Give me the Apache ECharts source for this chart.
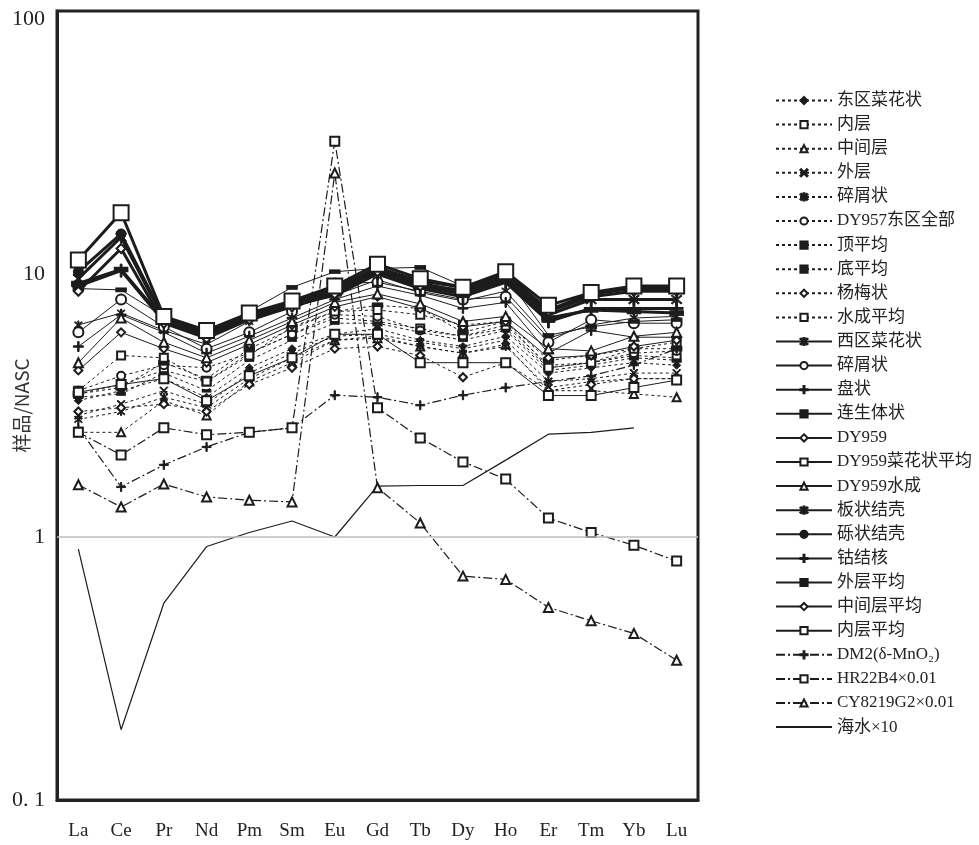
<!DOCTYPE html>
<html lang="zh">
<head>
<meta charset="UTF-8">
<title>REE pattern</title>
<script src="https://cdn.jsdelivr.net/npm/echarts@6/dist/echarts.min.js"></script>
<style>
  html, body { margin: 0; padding: 0; background: #fff; }
  #chart { width: 979px; height: 845px; }
</style>
</head>
<body>
<div id="chart"></div>
<script>
// 元素
var elements = ['La', 'Ce', 'Pr', 'Nd', 'Pm', 'Sm', 'Eu', 'Gd', 'Tb', 'Dy', 'Ho', 'Er', 'Tm', 'Yb', 'Lu'];
var yTicks = [0.1, 1, 10, 100];

// 虚线组
var dongquCaihua = [3.3, 3.6, 4.0, 3.4, 4.4, 5.2, 5.9, 6.2, 5.6, 5.3, 5.8, 4.2, 4.4, 4.6, 4.5];
var neiceng = [3.5, 3.8, 4.3, 3.9, 5.0, 5.9, 6.8, 6.6, 6.2, 5.8, 6.4, 4.5, 4.6, 4.9, 4.8];
var zhongjianceng = [2.5, 2.5, 3.3, 2.9, 3.9, 4.6, 5.6, 5.7, 5.3, 5.0, 5.4, 3.6, 3.6, 3.5, 3.4];
var waiceng = [2.9, 3.2, 3.6, 3.2, 4.2, 5.0, 5.8, 5.9, 5.5, 5.2, 5.6, 3.9, 4.0, 4.2, 4.2];
var suixie = [2.8, 3.0, 3.4, 3.1, 4.0, 4.8, 5.6, 5.8, 5.3, 5.0, 5.3, 3.7, 3.9, 4.0, 4.0];
var dy957 = [3.6, 4.1, 4.5, 4.4, 5.0, 5.9, 7.0, 6.9, 6.1, 5.8, 6.2, 4.4, 4.6, 5.0, 5.1];
var dingAvg = [3.4, 3.5, 4.2, 3.6, 4.7, 5.6, 6.5, 6.5, 6.0, 5.6, 6.1, 4.3, 4.5, 4.8, 4.7];
var diAvg = [3.5, 3.7, 4.6, 4.0, 5.2, 6.2, 7.2, 7.6, 7.4, 6.0, 6.6, 4.7, 4.9, 5.2, 5.2];
var yangmei = [3.0, 3.1, 3.2, 3.0, 3.8, 4.4, 5.2, 5.3, 4.9, 4.05, 4.6, 3.6, 3.8, 4.0, 4.0];
var shuichengAvg = [3.6, 4.9, 4.8, 3.9, 4.9, 6.3, 7.2, 7.3, 7.0, 6.4, 6.6, 4.4, 4.6, 5.2, 5.5];

// 细实线组
var xiquCaihua = [6.4, 7.1, 6.1, 5.4, 6.6, 7.5, 8.3, 9.5, 8.5, 7.9, 8.6, 5.7, 6.4, 6.8, 6.9];
var suixie2 = [6.0, 8.0, 6.3, 5.2, 6.0, 7.2, 9.2, 9.3, 8.6, 8.0, 8.2, 5.5, 6.7, 6.5, 6.5];
var panzhuang = [5.3, 7.0, 6.0, 5.0, 5.8, 6.8, 8.0, 9.0, 8.3, 7.4, 7.8, 5.0, 6.1, 5.75, 5.75];
var liansheng = [8.8, 8.7, 6.9, 5.8, 7.2, 8.9, 10.2, 10.5, 10.6, 9.0, 9.8, 5.85, 6.3, 6.6, 6.7];
var dy959 = [4.3, 6.0, 5.2, 4.6, 5.4, 6.4, 7.5, 8.2, 7.4, 6.3, 6.6, 4.8, 4.9, 5.3, 5.6];
var dy959Caihua = [3.55, 3.8, 4.0, 3.3, 4.1, 4.8, 5.9, 5.9, 4.6, 4.6, 4.6, 3.45, 3.45, 3.7, 3.95];
var dy959Shuicheng = [4.6, 6.8, 5.5, 4.8, 5.6, 6.6, 7.8, 8.4, 7.7, 6.6, 6.9, 5.2, 5.1, 5.8, 6.0];

// 粗实线组
var banzhuang = [9.6, 13.8, 6.7, 5.9, 6.9, 7.7, 8.6, 10.4, 9.2, 8.6, 9.7, 7.0, 8.0, 8.0, 8.0];
var lizhuang = [10.2, 14.2, 6.8, 6.0, 7.0, 7.8, 8.8, 10.6, 9.4, 8.9, 10.0, 7.3, 8.4, 8.8, 8.8];
var gujiehe = [9.0, 10.3, 6.6, 5.8, 6.8, 7.6, 8.3, 10.0, 8.8, 8.2, 9.3, 6.6, 7.4, 7.4, 7.4];
var waicengAvg = [9.2, 10.4, 6.7, 5.9, 6.9, 7.8, 8.5, 10.3, 9.0, 8.4, 9.5, 6.8, 7.3, 7.2, 7.1];
var zhongjianAvg = [8.6, 12.5, 6.5, 5.7, 6.7, 7.5, 8.4, 10.2, 9.0, 8.7, 9.8, 7.2, 8.2, 8.6, 8.6];
var neicengAvg = [11.3, 17.1, 6.9, 6.1, 7.1, 7.9, 9.0, 10.9, 9.6, 8.9, 10.2, 7.6, 8.5, 9.0, 9.0];

// 点划线组
var dm2 = [2.6, 1.55, 1.88, 2.2, 2.5, 2.6, 3.46, 3.4, 3.17, 3.46, 3.7, 3.9, 4.1, 4.5, 5.2];
var hr22b4 = [2.5, 2.05, 2.6, 2.45, 2.5, 2.6, 32, 3.1, 2.38, 1.93, 1.66, 1.18, 1.04, 0.93, 0.81];
var cy8219 = [1.58, 1.3, 1.59, 1.42, 1.38, 1.36, 24.2, 1.54, 1.13, 0.71, 0.69, 0.54, 0.48, 0.43, 0.34];
var seawater = [0.9, 0.185, 0.56, 0.92, 1.04, 1.15, 1.0, 1.56, 1.57, 1.57, 1.96, 2.46, 2.5, 2.6, null];

var ink = '#1c1c1c';
var symX = 'path://M0,1L1,0L10,9L9,10Z M9,0L10,1L1,10L0,9Z';
var symStar = 'path://M0,1L1,0L10,9L9,10Z M9,0L10,1L1,10L0,9Z M4.3,-1H5.7V11H4.3Z';
var symPlus = 'path://M4.3,0H5.7V10H4.3Z M0,4.3H10V5.7H0Z';

var dotted = [3, 3];
var dashDot = [9, 3, 2, 3];

function mk(name, data, symbol, size, width, type) {
    return {
        name: name,
        type: 'line',
        data: data,
        symbol: symbol,
        symbolSize: size,
        connectNulls: false,
        lineStyle: { color: ink, width: width, type: type },
        itemStyle: { color: ink, borderColor: ink, borderWidth: 1 },
        emphasis: { disabled: true },
        z: 2
    }
}

var series = [
    mk('东区菜花状', dongquCaihua, 'diamond', 8, 1, dotted),
    mk('内层', neiceng, 'emptyRect', 8, 1, dotted),
    mk('中间层', zhongjianceng, 'emptyTriangle', 8, 1, dotted),
    mk('外层', waiceng, symX, 8, 1, dotted),
    mk('碎屑状', suixie, symStar, 8, 1, dotted),
    mk('DY957东区全部', dy957, 'emptyCircle', 8, 1, dotted),
    mk('顶平均', dingAvg, 'rect', [8, 3], 1, dotted),
    mk('底平均', diAvg, 'rect', [10, 5], 1, dotted),
    mk('杨梅状', yangmei, 'emptyDiamond', 8, 1, dotted),
    mk('水成平均', shuichengAvg, 'emptyRect', 8, 1, dotted),
    mk('西区菜花状', xiquCaihua, symStar, 8, 1, 'solid'),
    mk('碎屑状 ', suixie2, 'emptyCircle', 10, 1, 'solid'),
    mk('盘状', panzhuang, symPlus, 10, 1, 'solid'),
    mk('连生体状', liansheng, 'rect', [10, 4], 1, 'solid'),
    mk('DY959', dy959, 'emptyDiamond', 8, 1, 'solid'),
    mk('DY959菜花状平均', dy959Caihua, 'emptyRect', 9, 1, 'solid'),
    mk('DY959水成', dy959Shuicheng, 'emptyTriangle', 9, 1, 'solid'),
    mk('板状结壳', banzhuang, symStar, 11, 3, 'solid'),
    mk('砾状结壳', lizhuang, 'circle', 10, 3, 'solid'),
    mk('钴结核', gujiehe, symPlus, 13, 3, 'solid'),
    mk('外层平均', waicengAvg, 'rect', [13, 5], 3, 'solid'),
    mk('中间层平均', zhongjianAvg, 'emptyDiamond', 9, 3, 'solid'),
    mk('内层平均', neicengAvg, 'emptyRect', 15, 3, 'solid'),
    mk('DM2(δ-MnO₂)', dm2, symPlus, 9, 1.2, dashDot),
    mk('HR22B4×0.01', hr22b4, 'emptyRect', 9, 1.2, dashDot),
    mk('CY8219G2×0.01', cy8219, 'emptyTriangle', 9, 1.2, dashDot),
    mk('海水×10', seawater, 'circle', 4, 1.2, 'solid')
]
// 海水线不画点
var sea = series[series.length - 1]
sea.showSymbol = false
sea.itemStyle = { opacity: 0 }
// 值为1的灰色横线
sea.markLine = {
    silent: true,
    symbol: 'none',
    label: { show: false },
    lineStyle: { color: '#bdbdbd', width: 1.5, type: 'solid', opacity: 1 },
    data: [{ yAxis: 1 }]
}

var myChart = echarts.init(document.getElementById('chart'), null, { renderer: 'canvas' });
var option = {
    animation: false,
    backgroundColor: '#fff',
    grid: {
        left: 57, right: 281, top: 11, bottom: 45,
        containLabel: false,
        outerBoundsMode: 'none',
        show: true, borderColor: '#222', borderWidth: 3, backgroundColor: 'transparent'
    },
    legend: {
        orient: 'vertical',
        left: 775,
        top: 92,
        padding: 0,
        itemWidth: 56,
        itemHeight: 9,
        itemGap: 7.1,
        textStyle: { fontSize: 17, color: '#222', fontFamily: "'Liberation Serif', 'Noto Sans CJK SC'" },
        data: series.map(function (s) { return s.name })
    },
    xAxis: {
        type: 'category',
        data: elements,
        boundaryGap: true,
        axisLine: { show: true, lineStyle: { color: '#222', width: 3 } },
        axisTick: { show: false },
        axisLabel: { fontSize: 19, color: '#222', margin: 22, fontFamily: "'Liberation Serif'" },
        splitLine: { show: false }
    },
    yAxis: {
        type: 'log',
        logBase: 10,
        min: yTicks[0],
        max: yTicks[yTicks.length - 1],
        name: '样品/NASC',
        nameLocation: 'middle',
        nameRotate: 90,
        nameGap: 26,
        nameMoveOverlap: false,
        nameTextStyle: { fontSize: 19, color: '#333', fontFamily: "'Noto Sans CJK SC'" },
        axisLine: { show: true, lineStyle: { color: '#222', width: 3 } },
        axisTick: { show: false },
        axisLabel: {
            fontSize: 22, color: '#222', margin: 12, fontFamily: "'Liberation Serif'",
            formatter: function (v) {
                if (v === 0.1) return '0. 1'
                if (v === 100) return '{top|100}'
                return String(v)
            },
            rich: { top: { fontSize: 22, color: '#222', fontFamily: "'Liberation Serif'", padding: [16, 0, 0, 0] } }
        },
        splitLine: { show: false }
    },
    series: series
}
myChart.setOption(option)
</script>
</body>
</html>
